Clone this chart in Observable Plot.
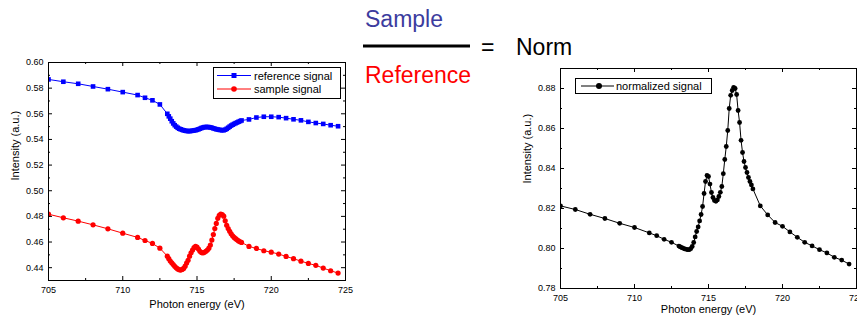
<!DOCTYPE html>
<html>
<head>
<meta charset="utf-8">
<script src="https://cdn.jsdelivr.net/npm/d3@7"></script>
<script src="https://cdn.jsdelivr.net/npm/@observablehq/plot@0.6"></script>
<style>
  html, body { margin: 0; padding: 0; background: #fff; }
  body { width: 857px; height: 320px; overflow: hidden; position: relative; font-family: "Liberation Sans", Arial, sans-serif; }
  .abs { position: absolute; }
</style>
</head>
<body>
<div id="left" class="abs" style="left:0;top:50px;"></div>
<div id="right" class="abs" style="left:510px;top:60px;"></div>
<svg id="mid" class="abs" style="left:0;top:0;" width="857" height="100"></svg>
<svg id="legL" class="abs" style="left:213px;top:67px;" width="128" height="32"></svg>
<svg id="legR" class="abs" style="left:575px;top:78px;" width="137" height="16"></svg>
<script>
// ---- data ----
const energy = [705,706,707,708,709,710,711,711.5,712,712.5,
  713,713.1,713.2,713.3,713.4,713.5,713.6,713.7,713.8,713.9,
  714,714.1,714.2,714.3,714.4,714.5,714.6,714.7,714.8,714.9,
  715,715.1,715.2,715.3,715.4,715.5,715.6,715.7,715.8,715.9,
  716,716.1,716.2,716.3,716.4,716.5,716.6,716.7,716.8,716.9,
  717,717.1,717.2,717.3,717.4,717.5,717.6,717.7,717.8,717.9,
  718,
  718.5,719,719.5,720,720.5,721,721.5,722,722.5,723,723.5,724,724.5];

const referenceSignal = [0.5868,0.5850,0.5834,0.5813,0.5792,0.5769,0.5746,0.5725,0.5705,0.5673,
  0.5600,0.5580,0.5562,0.5542,0.5525,0.5511,0.5500,0.5491,0.5484,0.5479,
  0.5475,0.5471,0.5468,0.5466,0.5465,0.5465,0.5466,0.5468,0.5470,0.5472,
  0.5475,0.5479,0.5484,0.5489,0.5493,0.5496,0.5497,0.5497,0.5496,0.5494,
  0.5491,0.5487,0.5483,0.5480,0.5477,0.5475,0.5473,0.5472,0.5472,0.5476,
  0.5483,0.5491,0.5500,0.5508,0.5515,0.5521,0.5527,0.5532,0.5538,0.5543,
  0.5548,
  0.5556,0.5571,0.5577,0.5577,0.5574,0.5566,0.5557,0.5549,0.5537,0.5528,0.5521,0.5511,0.5503];

const sampleSignal = [0.4817,0.4789,0.4763,0.4734,0.4703,0.4669,0.4636,0.4612,0.4589,0.4552,
  0.4490,0.4470,0.4452,0.4438,0.4424,0.4411,0.4399,0.4390,0.4384,0.4381,
  0.4386,0.4394,0.4412,0.4436,0.4458,0.4490,0.4516,0.4537,0.4556,0.4567,
  0.4560,0.4545,0.4528,0.4518,0.4515,0.4520,0.4528,0.4538,0.4552,0.4576,
  0.4615,0.4658,0.4705,0.4745,0.4785,0.4808,0.4817,0.4814,0.4802,0.4765,
  0.4730,0.4705,0.4684,0.4664,0.4648,0.4636,0.4626,0.4617,0.4609,0.4602,
  0.4597,
  0.4566,0.4550,0.4532,0.4521,0.4506,0.4488,0.4470,0.4451,0.4433,0.4418,0.4397,0.4376,0.4358];

const normalizedSignal = [0.8213,0.8195,0.8171,0.8150,0.8126,0.8105,0.8078,0.8064,0.8046,0.8031,
  0.8012,0.8008,0.8004,0.8001,0.7998,0.7996,0.7994,0.7994,0.7999,0.8010,
  0.8030,0.8058,0.8085,0.8108,0.8138,0.8170,0.8210,0.8275,0.8335,0.8365,
  0.8360,0.8322,0.8280,0.8255,0.8240,0.8236,0.8243,0.8260,0.8281,0.8310,
  0.8374,0.8445,0.8510,0.8590,0.8700,0.8766,0.8790,0.8806,0.8800,0.8770,
  0.8690,0.8630,0.8541,0.8480,0.8435,0.8405,0.8380,0.8355,0.8335,0.8318,
  0.8298,
  0.8213,0.8168,0.8130,0.8111,0.8083,0.8056,0.8031,0.8013,0.7994,0.7978,0.7956,0.7942,0.7922];

const xMajor = [705,710,715,720,725];
const xMinor = [707.5,712.5,717.5,722.5];
const yMajorLeft = [0.44,0.46,0.48,0.50,0.52,0.54,0.56,0.58,0.60];
const yMinorLeft = [0.43,0.45,0.47,0.49,0.51,0.53,0.55,0.57,0.59];
const yMajorRight = [0.78,0.80,0.82,0.84,0.86,0.88];
const yMinorRight = [0.79,0.81,0.83,0.85,0.87,0.89];

const rows = energy.map((e, i) => ({e, ref: referenceSignal[i], smp: sampleSignal[i], norm: normalizedSignal[i]}));

const font = '"Liberation Sans", Arial, sans-serif';
const fmt2 = d3.format(".2f");

function frameTicks(w, h, xMaj, xMin, yMaj, yMin) {
  const M = 4, m = 2;
  return [
    Plot.tickX(xMaj, {x: d => d, insetTop: h - M, stroke: "black"}),
    Plot.tickX(xMaj, {x: d => d, insetBottom: h - M, stroke: "black"}),
    Plot.tickX(xMin, {x: d => d, insetTop: h - m, stroke: "black"}),
    Plot.tickX(xMin, {x: d => d, insetBottom: h - m, stroke: "black"}),
    Plot.tickY(yMaj, {y: d => d, insetRight: w - M, stroke: "black"}),
    Plot.tickY(yMaj, {y: d => d, insetLeft: w - M, stroke: "black"}),
    Plot.tickY(yMin, {y: d => d, insetRight: w - m, stroke: "black"}),
    Plot.tickY(yMin, {y: d => d, insetLeft: w - m, stroke: "black"})
  ];
}

// ---- left chart ----
{
  const W = 355, H = 270, ml = 48, mr = 10, mt = 12, mb = 40;
  const pw = W - ml - mr, ph = H - mt - mb;
  const chart = Plot.plot({
    width: W, height: H, marginLeft: ml, marginRight: mr, marginTop: mt, marginBottom: mb,
    style: {fontFamily: font, fontSize: "9px", background: "transparent", overflow: "visible", color: "black"},
    x: {domain: [705, 725]},
    y: {domain: [0.43, 0.60]},
    marks: [
      Plot.line(rows, {x: "e", y: "ref", stroke: "#0000ff", strokeWidth: 1, clip: true}),
      Plot.dot(rows, {x: "e", y: "ref", symbol: "square", r: 2.6, fill: "#0000ff", clip: true}),
      Plot.line(rows, {x: "e", y: "smp", stroke: "#ff0000", strokeWidth: 1, clip: true}),
      Plot.dot(rows, {x: "e", y: "smp", symbol: "circle", r: 2.6, fill: "#ff0000", clip: true}),
      Plot.frame({stroke: "black"}),
      ...frameTicks(pw, ph, xMajor, xMinor, yMajorLeft, yMinorLeft),
      Plot.axisX(xMajor, {tickSize: 0, tickPadding: 6, tickFormat: d => d, label: null}),
      Plot.axisY(yMajorLeft, {tickSize: 0, tickPadding: 5, tickFormat: fmt2, label: null}),
      Plot.text(["Photon energy (eV)"], {frameAnchor: "bottom", dy: 27, fontSize: 11, text: d => d}),
      Plot.text(["Intensity (a.u.)"], {frameAnchor: "left", rotate: -90, dx: -33, dy: 9, fontSize: 11, text: d => d})
    ]
  });
  document.getElementById("left").append(chart);
}

// ---- right chart ----
{
  const W = 347, H = 260, ml = 50, mr = 1, mt = 8, mb = 32;
  const pw = W - ml - mr, ph = H - mt - mb;
  const chart = Plot.plot({
    width: W, height: H, marginLeft: ml, marginRight: mr, marginTop: mt, marginBottom: mb,
    style: {fontFamily: font, fontSize: "9px", background: "transparent", overflow: "visible", color: "black"},
    x: {domain: [705, 725]},
    y: {domain: [0.78, 0.89]},
    marks: [
      Plot.line(rows, {x: "e", y: "norm", stroke: "black", strokeWidth: 1, clip: true}),
      Plot.dot(rows, {x: "e", y: "norm", symbol: "circle", r: 2.4, fill: "black", clip: true}),
      Plot.frame({stroke: "black"}),
      ...frameTicks(pw, ph, xMajor, xMinor, yMajorRight, yMinorRight),
      Plot.axisX(xMajor, {tickSize: 0, tickPadding: 6, tickFormat: d => d, label: null}),
      Plot.axisY(yMajorRight, {tickSize: 0, tickPadding: 5, tickFormat: fmt2, label: null}),
      Plot.text(["Photon energy (eV)"], {frameAnchor: "bottom", dy: 24, fontSize: 11, text: d => d}),
      Plot.text(["Intensity (a.u.)"], {frameAnchor: "left", rotate: -90, dx: -33, dy: 5, fontSize: 11, text: d => d})
    ]
  });
  document.getElementById("right").append(chart);
}

// ---- middle equation ----
{
  const ns = "http://www.w3.org/2000/svg";
  const svg = document.getElementById("mid");
  const add = (tag, attrs, txt) => {
    const el = document.createElementNS(ns, tag);
    for (const k in attrs) el.setAttribute(k, attrs[k]);
    if (txt != null) el.textContent = txt;
    svg.appendChild(el);
  };
  add("text", {x: 365, y: 26.5, "font-size": 23, fill: "#3c3c9e", "font-family": font}, "Sample");
  add("line", {x1: 363, x2: 470, y1: 46, y2: 46, stroke: "black", "stroke-width": 3});
  add("text", {x: 481, y: 54.5, "font-size": 23, fill: "black", "font-family": font}, "=");
  add("text", {x: 516, y: 55, "font-size": 23, fill: "black", "font-family": font}, "Norm");
  add("text", {x: 365, y: 83, "font-size": 23, fill: "#ff0000", "font-family": font}, "Reference");
}

// ---- legends ----
function legend(id, w, h, entries) {
  const ns = "http://www.w3.org/2000/svg";
  const svg = document.getElementById(id);
  const add = (tag, attrs, txt) => {
    const el = document.createElementNS(ns, tag);
    for (const k in attrs) el.setAttribute(k, attrs[k]);
    if (txt != null) el.textContent = txt;
    svg.appendChild(el);
  };
  add("rect", {x: 0.5, y: 0.5, width: w - 1, height: h - 1, fill: "white", stroke: "black", "stroke-width": 1});
  for (const en of entries) {
    add("line", {x1: en.x1, x2: en.x2, y1: en.y, y2: en.y, stroke: en.color, "stroke-width": 1});
    if (en.symbol === "square") add("rect", {x: en.mx - 2.5, y: en.y - 2.5, width: 5, height: 5, fill: en.color});
    else add("circle", {cx: en.mx, cy: en.y, r: en.r, fill: en.color});
    add("text", {x: en.tx, y: en.y + 4, "font-size": 11, fill: "black", "font-family": font}, en.label);
  }
}
legend("legL", 128, 32, [
  {label: "reference signal", color: "#0000ff", symbol: "square", x1: 4, x2: 38, mx: 21, y: 8.5, tx: 41},
  {label: "sample signal", color: "#ff0000", symbol: "circle", r: 2.8, x1: 4, x2: 38, mx: 21, y: 22, tx: 41}
]);
legend("legR", 137, 16, [
  {label: "normalized signal", color: "black", symbol: "circle", r: 3, x1: 6, x2: 39, mx: 24, y: 8, tx: 41}
]);
</script>
</body>
</html>
